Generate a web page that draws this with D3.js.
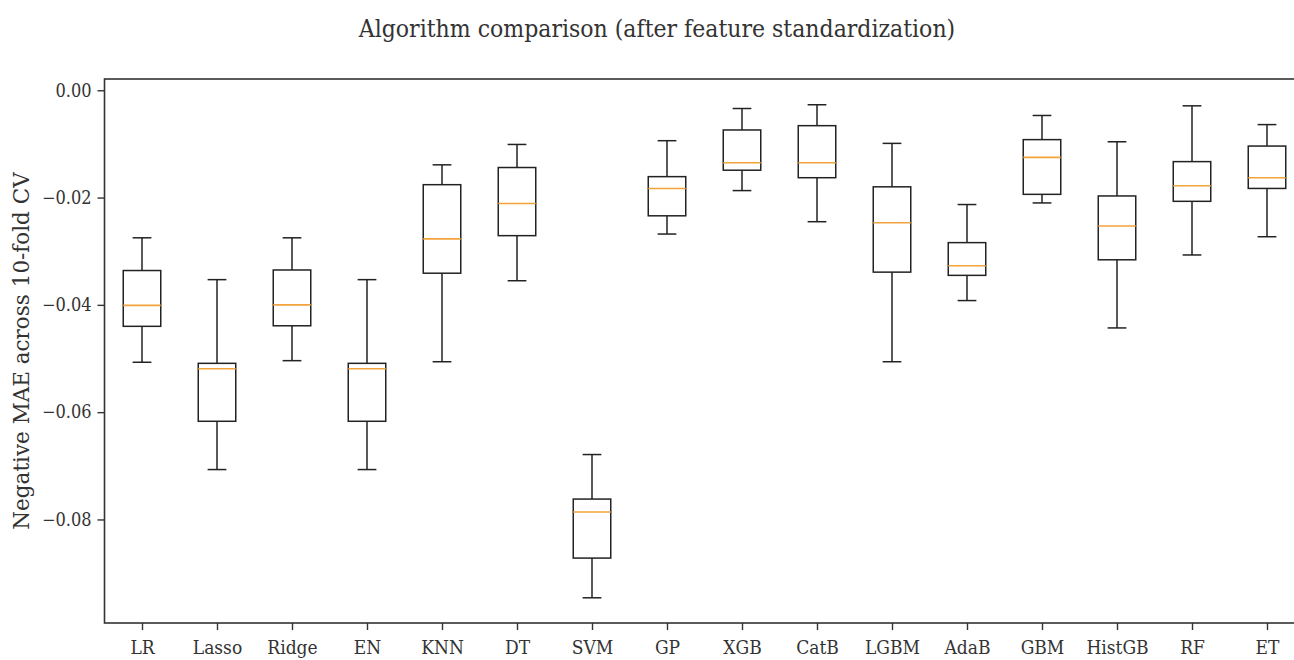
<!DOCTYPE html>
<html>
<head>
<meta charset="utf-8">
<script src="https://cdn.jsdelivr.net/npm/d3@7"></script>
<style>
  body { margin: 0; background: #fff; }
  text { font-family: "DejaVu Serif", serif; font-stretch: condensed; fill: #333; }
</style>
</head>
<body>
<div id="chart"></div>
<script>
const categories = ['LR', 'Lasso', 'Ridge', 'EN', 'KNN', 'DT', 'SVM', 'GP', 'XGB', 'CatB', 'LGBM', 'AdaB', 'GBM', 'HistGB', 'RF', 'ET'];
const whiskerHigh = [-0.0275, -0.0353, -0.0275, -0.0353, -0.0139, -0.0101, -0.0679, -0.0094, -0.0034, -0.0027, -0.0099, -0.0213, -0.0047, -0.0096, -0.0029, -0.0064];
const q3 = [-0.0336, -0.0509, -0.0335, -0.0509, -0.0176, -0.0144, -0.0762, -0.0161, -0.0074, -0.0066, -0.0180, -0.0284, -0.0092, -0.0197, -0.0133, -0.0104];
const median = [-0.0401, -0.0519, -0.0400, -0.0519, -0.0277, -0.0211, -0.0786, -0.0183, -0.0135, -0.0135, -0.0247, -0.0327, -0.0125, -0.0253, -0.0178, -0.0163];
const q1 = [-0.0440, -0.0617, -0.0439, -0.0617, -0.0341, -0.0271, -0.0872, -0.0234, -0.0149, -0.0163, -0.0339, -0.0345, -0.0194, -0.0316, -0.0207, -0.0183];
const whiskerLow = [-0.0507, -0.0707, -0.0504, -0.0707, -0.0506, -0.0355, -0.0946, -0.0268, -0.0187, -0.0245, -0.0506, -0.0392, -0.0210, -0.0443, -0.0307, -0.0273];
const yTicks = [0, -0.02, -0.04, -0.06, -0.08];

const width = 1294, height = 660;
const plot = { left: 104.5, right: 1304.5, top: 79, bottom: 623 };

const svg = d3.select('#chart').append('svg')
    .attr('width', width)
    .attr('height', height);

const x = d3.scaleLinear()
    .domain([0.5, categories.length + 0.5])
    .range([plot.left, plot.right]);

const y = d3.scaleLinear()
    .domain([-0.0993, 0.0021])
    .range([plot.bottom, plot.top]);

const boxes = categories.map((c, i) => ({
    name: c, pos: i + 1,
    lo: whiskerLow[i], q1: q1[i], med: median[i], q3: q3[i], hi: whiskerHigh[i]
}));

const halfBox = (x(1.25) - x(1));
const halfCap = halfBox / 2;

const g = svg.append('g');

const box = g.selectAll('.box')
    .data(boxes)
    .enter()
    .append('g')
    .attr('class', 'box');

// whiskers
box.append('line')
    .attr('x1', d => x(d.pos)).attr('x2', d => x(d.pos))
    .attr('y1', d => y(d.hi)).attr('y2', d => y(d.q3))
    .attr('stroke', '#222').attr('stroke-width', 1.5);
box.append('line')
    .attr('x1', d => x(d.pos)).attr('x2', d => x(d.pos))
    .attr('y1', d => y(d.q1)).attr('y2', d => y(d.lo))
    .attr('stroke', '#222').attr('stroke-width', 1.5);

// caps
box.append('line')
    .attr('x1', d => x(d.pos) - halfCap).attr('x2', d => x(d.pos) + halfCap)
    .attr('y1', d => y(d.hi)).attr('y2', d => y(d.hi))
    .attr('stroke', '#222').attr('stroke-width', 1.5);
box.append('line')
    .attr('x1', d => x(d.pos) - halfCap).attr('x2', d => x(d.pos) + halfCap)
    .attr('y1', d => y(d.lo)).attr('y2', d => y(d.lo))
    .attr('stroke', '#222').attr('stroke-width', 1.5);

// boxes
box.append('rect')
    .attr('x', d => x(d.pos) - halfBox)
    .attr('width', halfBox * 2)
    .attr('y', d => y(d.q3))
    .attr('height', d => y(d.q1) - y(d.q3))
    .attr('fill', 'none')
    .attr('stroke', '#222').attr('stroke-width', 1.5);

// medians
box.append('line')
    .attr('x1', d => x(d.pos) - halfBox).attr('x2', d => x(d.pos) + halfBox)
    .attr('y1', d => y(d.med)).attr('y2', d => y(d.med))
    .attr('stroke', '#f2a33a').attr('stroke-width', 1.6);

// axes
const xAxis = d3.axisBottom(x)
    .tickValues(d3.range(1, categories.length + 1))
    .tickFormat(i => categories[i - 1])
    .tickSize(7)
    .tickPadding(11);

const yAxis = d3.axisLeft(y)
    .tickValues(yTicks)
    .tickFormat(d3.format('.2f'))
    .tickSize(7)
    .tickPadding(6);

const gx = svg.append('g')
    .attr('transform', `translate(0,${plot.bottom})`)
    .call(xAxis);
const gy = svg.append('g')
    .attr('transform', `translate(${plot.left},0)`)
    .call(yAxis);

[gx, gy].forEach(a => {
    a.select('.domain').remove();
    a.selectAll('.tick line').attr('stroke', '#333').attr('stroke-width', 1.4);
    a.selectAll('.tick text').attr('fill', '#333');
});
gx.selectAll('.tick text').style('font-size', '19px');
gy.selectAll('.tick text').style('font-size', '18px');

// frame
svg.append('rect')
    .attr('x', plot.left).attr('y', plot.top)
    .attr('width', plot.right - plot.left).attr('height', plot.bottom - plot.top)
    .attr('fill', 'none')
    .attr('stroke', '#333').attr('stroke-width', 1.6);

svg.append('text')
    .attr('x', 657).attr('y', 37)
    .attr('text-anchor', 'middle')
    .style('font-size', '24.5px')
    .text('Algorithm comparison (after feature standardization)');

svg.append('text')
    .attr('transform', `translate(29,${(plot.top + plot.bottom) / 2}) rotate(-90)`)
    .attr('text-anchor', 'middle')
    .style('font-size', '21.5px')
    .style('font-stretch', 'normal')
    .text('Negative MAE across 10-fold CV');
</script>
</body>
</html>
